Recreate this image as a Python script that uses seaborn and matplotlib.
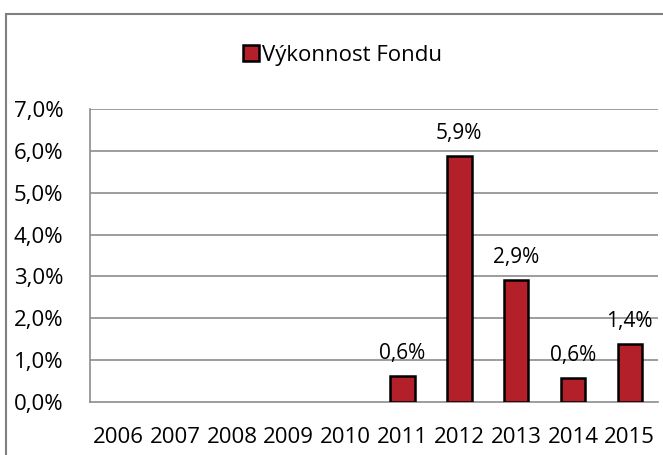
import matplotlib

matplotlib.use("Agg")
import matplotlib.pyplot as plt
import numpy as np
import pandas as pd
import seaborn as sns
from matplotlib.patches import Rectangle, Patch

years = ["2006", "2007", "2008", "2009", "2010", "2011", "2012", "2013", "2014", "2015"]
vykonnost = [np.nan, np.nan, np.nan, np.nan, np.nan, 0.62, 5.88, 2.92, 0.57, 1.38]
series_name = "Výkonnost Fondu"
y_ticks = [0, 1, 2, 3, 4, 5, 6, 7]

bar_color = "#B4202A"
grid_color = "#8C8C8C"

sns.set_theme(style="white")
plt.rcParams["font.family"] = ["Open Sans", "DejaVu Sans"]
plt.rcParams["text.color"] = "black"

df = pd.DataFrame({"year": years, "value": vykonnost})

fig = plt.figure(figsize=(6.63, 4.55), dpi=100)
ax = fig.add_axes([0.1357, 0.117, 0.857, 0.643])

sns.barplot(
    data=df,
    x="year",
    y="value",
    order=years,
    color=bar_color,
    saturation=1,
    width=0.43,
    edgecolor="black",
    linewidth=1.8,
    ax=ax,
    zorder=3,
)

# data labels above the bars
for i, v in enumerate(vykonnost):
    if not np.isnan(v):
        ax.annotate(
            f"{v:.1f}".replace(".", ",") + "%",
            (i, v),
            xytext=(0, 12),
            textcoords="offset points",
            ha="center",
            va="baseline",
            fontsize=15,
            color="black",
        )

ax.set_ylim(0, 7)
ax.set_xlim(-0.5, len(years) - 0.5)
ax.set_yticks(y_ticks)
ax.set_yticklabels([f"{t},0%" for t in y_ticks], fontsize=16)
ax.set_xticks(np.arange(len(years)))
ax.set_xticklabels(years, fontsize=16)
ax.tick_params(axis="x", length=0, pad=18, labelcolor="black")
ax.set_xticks(np.arange(len(years) + 1) - 0.5, minor=True)
ax.tick_params(axis="x", which="minor", length=6, width=1.2, color=grid_color, direction="out")
ax.tick_params(axis="y", length=6, width=1.2, color=grid_color, direction="out", pad=13,
               labelcolor="black")
ax.set_xlabel("")
ax.set_ylabel("")

for t in y_ticks[1:]:
    ax.axhline(t, color=grid_color, linewidth=1.2, zorder=1)

for side in ["top", "right"]:
    ax.spines[side].set_visible(False)
for side in ["left", "bottom"]:
    ax.spines[side].set_color(grid_color)
    ax.spines[side].set_linewidth(1.2)

handle = Patch(facecolor=bar_color, edgecolor="black", linewidth=1.8)
fig.legend(
    [handle],
    [series_name],
    loc="center",
    bbox_to_anchor=(0.517, 0.878),
    frameon=False,
    fontsize=16,
    handlelength=0.7,
    handleheight=0.7,
    handletextpad=0.15,
    labelcolor="black",
)

fig.patches.append(
    Rectangle(
        (6 / 663, -0.1),
        1.2,
        1 - 14 / 455 + 0.1,
        transform=fig.transFigure,
        fill=False,
        edgecolor="#7F7F7F",
        linewidth=1.5,
    )
)

fig.savefig("out.png", dpi=100)
